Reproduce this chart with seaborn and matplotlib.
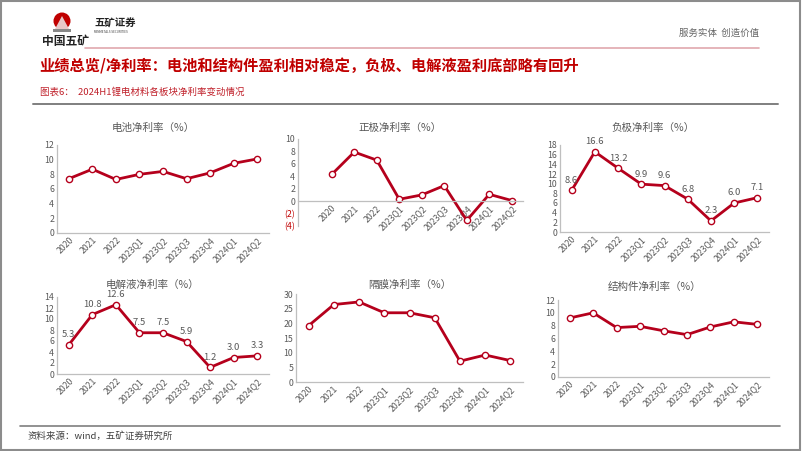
import matplotlib
matplotlib.use("Agg")
import matplotlib.pyplot as plt
import seaborn as sns
import pandas as pd
from matplotlib.lines import Line2D
from matplotlib.patches import Rectangle, Ellipse, Polygon
from matplotlib.ticker import FixedLocator, FuncFormatter

# data
periods = ["2020", "2021", "2022", "2023Q1", "2023Q2", "2023Q3", "2023Q4", "2024Q1", "2024Q2"]
battery = [7.4, 8.7, 7.3, 8.0, 8.4, 7.4, 8.2, 9.5, 10.1]
cathode = [4.3, 7.9, 6.6, 0.3, 1.0, 2.5, -3.1, 1.1, 0.1]
anode = [8.6, 16.6, 13.2, 9.9, 9.6, 6.8, 2.3, 6.0, 7.1]
electrolyte = [5.3, 10.8, 12.6, 7.5, 7.5, 5.9, 1.2, 3.0, 3.3]
separator = [19.2, 26.4, 27.3, 23.6, 23.6, 21.9, 7.1, 9.2, 7.3]
structural = [9.2, 10.0, 7.7, 7.9, 7.2, 6.6, 7.8, 8.6, 8.2]

titles = ["电池净利率（%）", "正极净利率（%）", "负极净利率（%）",
          "电解液净利率（%）", "隔膜净利率（%）", "结构件净利率（%）"]

sns.set_theme(style="white")
plt.rcParams["font.family"] = ["Noto Sans CJK SC", "DejaVu Sans"]

W, H = 802, 451
RED = "#B5001C"
GRAY = "#595959"
AXIS = "#BFBFBF"

fig = plt.figure(figsize=(W / 100, H / 100), dpi=100)


def fx(x):
    return x / W


def fy(y):
    return 1 - y / H


def make_ax(x0, x1, ytop, ybot):
    return fig.add_axes([fx(x0), fy(ybot), (x1 - x0) / W, (ybot - ytop) / H])


def panel(ax, values, ylim, step, labels=False, xmin=-0.5, zero_axis=False):
    df = pd.DataFrame({"period": periods, "value": values})
    sns.lineplot(data=df, x="period", y="value", ax=ax, sort=False, color=RED,
                 linewidth=2, marker="o", markersize=4.5,
                 markerfacecolor="white", markeredgecolor=RED, markeredgewidth=1)
    ax.set_xlim(xmin, len(periods) - 0.5)
    ax.set_ylim(*ylim)
    ax.set_xlabel("")
    ax.set_ylabel("")
    ax.set_facecolor("none")
    for s in ["top", "right"]:
        ax.spines[s].set_visible(False)
    for s in ["left", "bottom"]:
        ax.spines[s].set_color(AXIS)
        ax.spines[s].set_linewidth(0.9)
    if zero_axis:
        # category axis crosses at zero, labels sit under it
        ax.spines["bottom"].set_position(("data", 0))
    ax.set_yticks(list(range(ylim[0], ylim[1] + 1, step)))
    ax.set_xticks(range(len(periods)))
    ax.set_xticklabels(periods, rotation=45, ha="right", rotation_mode="anchor")
    ax.xaxis.set_minor_locator(FixedLocator([i + 0.5 for i in range(-1, len(periods))]))
    ax.tick_params(axis="x", which="major", length=0, labelsize=6.3, colors=GRAY, pad=2)
    ax.tick_params(axis="x", which="minor", length=3, color=AXIS, direction="out")
    ax.tick_params(axis="y", length=0, labelsize=6.3, colors=GRAY, pad=2)
    if labels:
        for i, v in enumerate(values):
            ax.annotate(f"{v:.1f}", (i, v), xytext=(0, 4), textcoords="offset points",
                        ha="center", va="bottom", fontsize=6.8, color=GRAY)


# row 1
ax1 = make_ax(57, 269, 145, 233)
panel(ax1, battery, (0, 12), 2)

ax2 = make_ax(298, 523, 139, 226)
panel(ax2, cathode, (-4, 10), 2, xmin=-1.5, zero_axis=True)
ax2.yaxis.set_major_formatter(FuncFormatter(lambda v, p: f"({abs(int(v))})" if v < 0 else f"{int(v)}"))
for t, v in zip(ax2.get_yticklabels(), ax2.get_yticks()):
    if v < 0:
        t.set_color("#C00000")

ax3 = make_ax(560, 769, 145, 232)
panel(ax3, anode, (0, 18), 2, labels=True)

# row 2
ax4 = make_ax(57, 269, 297, 374)
panel(ax4, electrolyte, (0, 14), 2, labels=True)

ax5 = make_ax(296, 523, 294, 382)
panel(ax5, separator, (0, 30), 5)

ax6 = make_ax(558, 769, 300, 377)
panel(ax6, structural, (0, 12), 2)

# panel titles
title_pos = [(153, 128), (400, 128), (653, 128), (153, 285), (410, 285), (655, 287)]
for t, (x, y) in zip(titles, title_pos):
    fig.text(fx(x), fy(y), t, ha="center", va="center", fontsize=7.6, color=GRAY)

# header
fig.add_artist(Ellipse((fx(62), fy(21)), 17 / W, 17 / H, transform=fig.transFigure,
                       facecolor="#C00000", edgecolor="none"))
fig.add_artist(Polygon([(fx(55), fy(29)), (fx(62), fy(16)), (fx(69), fy(29))],
                       closed=True, transform=fig.transFigure, facecolor="#E8C8C8", edgecolor="none"))
fig.add_artist(Rectangle((fx(53), fy(32)), 18 / W, 3 / H, transform=fig.transFigure,
                         facecolor="#888888", edgecolor="none"))
fig.text(fx(42), fy(41), "中国五矿", fontsize=8.5, fontweight="bold", color="#222222", va="center")
fig.text(fx(94), fy(24), "五矿证券", fontsize=7.5, fontweight="bold", color="#222222", va="center")
fig.text(fx(94), fy(32), "MINMETALS SECURITIES", fontsize=2.2, color="#444444", va="center")
fig.text(fx(759), fy(33), "服务实体  创造价值", fontsize=6.8, color="#666666", ha="right", va="center")
fig.add_artist(Line2D([fx(85), fx(759)], [fy(48), fy(48)], transform=fig.transFigure,
                      color="#E0A8AE", linewidth=1.2))

fig.text(fx(39), fy(66), "业绩总览/净利率：电池和结构件盈利相对稳定，负极、电解液盈利底部略有回升",
         fontsize=11, fontweight="bold", color="#C00000", va="center")
fig.text(fx(40), fy(92), "图表6：  2024H1锂电材料各板块净利率变动情况",
         fontsize=6.8, color="#C0202A", va="center")
fig.add_artist(Line2D([fx(33), fx(778)], [fy(104), fy(104)], transform=fig.transFigure,
                      color="#7F7F7F", linewidth=1.4))

# footer
fig.add_artist(Line2D([fx(20), fx(780)], [fy(426), fy(426)], transform=fig.transFigure,
                      color="#7F7F7F", linewidth=1.2))
fig.text(fx(27), fy(436), "资料来源：wind，五矿证券研究所", fontsize=6.8, color="#404040", va="center")

# outer frame
fig.add_artist(Rectangle((0.001, 0.002), 0.997, 0.996, transform=fig.transFigure,
                         fill=False, edgecolor="#8C8C8C", linewidth=1.5))

fig.savefig("out.png", dpi=100)
